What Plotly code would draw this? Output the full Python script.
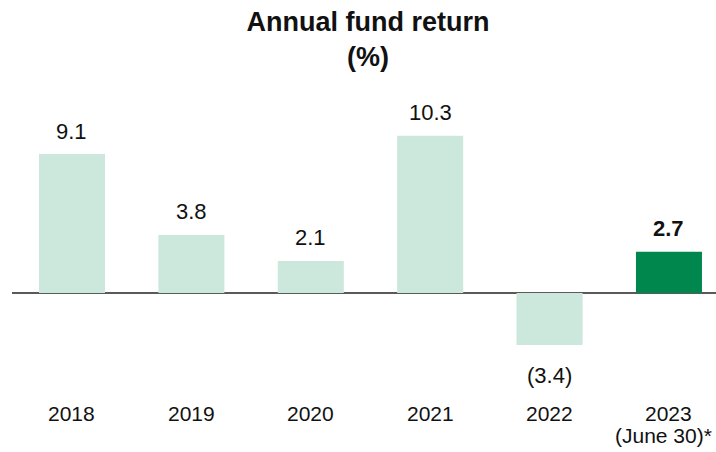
import plotly.graph_objects as go

years = ["2018", "2019", "2020", "2021", "2022", "2023"]
returns = [9.1, 3.8, 2.1, 10.3, -3.4, 2.7]
value_labels = ["9.1", "3.8", "2.1", "10.3", "(3.4)", "2.7"]
year_sublabels = ["", "", "", "", "", "(June 30)*"]

LIGHT = "#cce7db"
DARK = "#00874e"
TEXT = "#111111"
FONT = "Liberation Sans"

colors = [DARK if i == len(years) - 1 else LIGHT for i in range(len(years))]

fig = go.Figure(
    go.Bar(
        x=years,
        y=returns,
        marker=dict(color=colors, line=dict(width=0)),
        width=0.553,
        hoverinfo="skip",
    )
)

annotations = []
for i, (yr, v, lab) in enumerate(zip(years, returns, value_labels)):
    last = i == len(years) - 1
    annotations.append(dict(
        x=i, y=v, xref="x", yref="y",
        text=f"<b>{lab}</b>" if last else lab,
        showarrow=False, yanchor="middle",
        yshift=23 if v >= 0 else -31,
        font=dict(family=FONT, size=22, color=TEXT),
    ))
    annotations.append(dict(
        x=i, y=0, xref="x", yref="y", text=yr, showarrow=False,
        yanchor="middle", yshift=-120,
        font=dict(family=FONT, size=21, color=TEXT),
    ))
    if year_sublabels[i]:
        annotations.append(dict(
            x=i, y=0, xref="x", yref="y", text=year_sublabels[i], showarrow=False,
            yanchor="middle", yshift=-142, xshift=-5,
            font=dict(family=FONT, size=21, color=TEXT),
        ))

fig.update_layout(
    width=716, height=452,
    margin=dict(l=12, r=0, t=80, b=52),
    paper_bgcolor="white", plot_bgcolor="white",
    showlegend=False,
    title=dict(
        text="<b>Annual fund return<br>(%)</b>",
        x=368 / 716, xanchor="center", xref="container",
        y=1 - 31 / 452, yanchor="middle", yref="container",
        font=dict(family=FONT, size=27, color=TEXT),
    ),
    xaxis=dict(
        type="category", range=[-0.5025, 5.394],
        showticklabels=False, showgrid=False, zeroline=False, showline=False, ticks="",
    ),
    yaxis=dict(
        range=[-7.007, 13.95], showticklabels=False, showgrid=False,
        zeroline=True, zerolinecolor="#5a5a5a", zerolinewidth=2, showline=False, ticks="",
    ),
    annotations=annotations,
)

fig.write_html("out.html", config={"displayModeBar": False},
               post_script="document.body.style.margin='0';")
